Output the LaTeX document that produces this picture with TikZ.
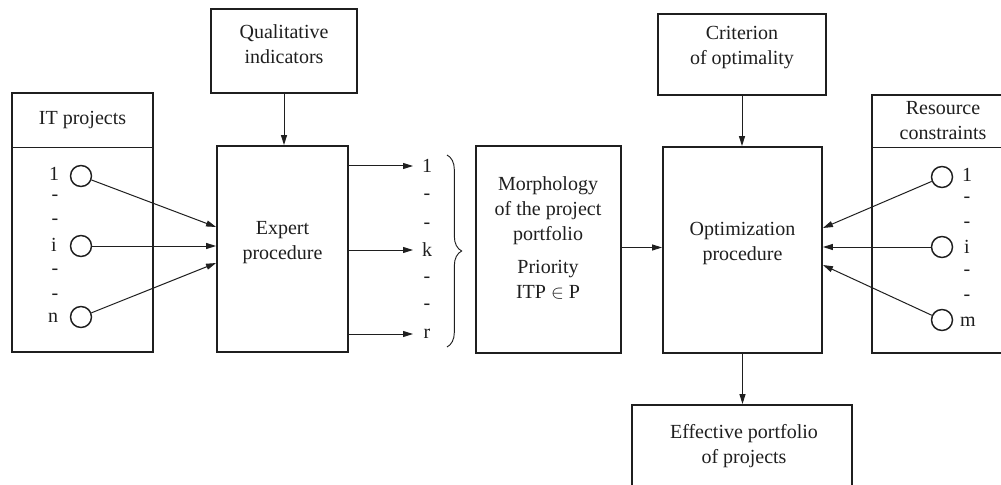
\documentclass[tikz,border=0pt]{standalone}
\usepackage{fontspec}
\setmainfont{Liberation Serif}
\usetikzlibrary{arrows.meta,fit,calc,decorations.pathreplacing}
\definecolor{ink}{gray}{0.12}
\begin{document}
\begin{tikzpicture}[x=0.75pt,y=-0.75pt,
  font=\fontsize{15}{18.75}\selectfont, text=ink,
  box/.style={draw=ink, line width=1.4pt, inner sep=0pt, align=center},
  sepline/.style={draw=ink, line width=0.6pt},
  arr/.style={draw=ink, line width=0.75pt, -{Triangle[length=7.5pt,width=4.5pt]}},
  port/.style={circle, draw=ink, line width=1.1pt, minimum size=15.75pt, inner sep=0pt},
  lbl/.style={inner sep=0pt},
  bracestyle/.style={draw=ink, line width=0.7pt, decorate, decoration={brace, amplitude=11pt}}
]
\clip (0,0) rectangle (1001,485);
\fill[white] (0,0) rectangle (1001,485);

% IT projects
\node[box, fit={(12,93) (153,352)}] (itp) {};
\draw[sepline] ($(itp.north west)+(0,55)$) -- ($(itp.north east)+(0,55)$);
\node (ithead) at ($(itp.north)+(0,28)$) {IT projects};
\node[port] (a1) at (81,176) {};
\node[port] (a2) at (81,246) {};
\node[port] (a3) at (81,317) {};
\node[lbl] (la1) at (54,174) {1};
\node[lbl] (la2) at (54,245) {i};
\node[lbl] (la3) at (53,318) {n};
\node[lbl] (da1) at (55,198) {-};
\node[lbl] (da2) at (55,222) {-};
\node[lbl] (da3) at (55,272) {-};
\node[lbl] (da4) at (55,297) {-};

% Qualitative indicators and expert procedure
\node[box, fit={(211,9) (357,93)}] (qual) {Qualitative\\indicators};
\node[box, fit={(217,146) (348,352)}] (expert) {Expert\\procedure};
\draw[arr] (qual.south) -- (qual.south |- expert.north);
\draw[arr] (a1) -- ($(expert.west)+(0,-22)$);
\draw[arr] (a2) -- ($(expert.west)+(0,-3)$);
\draw[arr] (a3) -- ($(expert.west)+(0,14)$);

% outputs
\node[lbl] (o1) at (427,166) {1};
\node[lbl] (o2) at (427,250) {k};
\node[lbl] (o3) at (427,334) {r};
\node[lbl] (do1) at (427,197) {-};
\node[lbl] (do2) at (427,226) {-};
\node[lbl] (do3) at (427,280) {-};
\node[lbl] (do4) at (427,307) {-};
\draw[arr] (expert.east |- o1) -- ($(o1.center)+(-14,0)$);
\draw[arr] (expert.east |- o2) -- ($(o2.center)+(-14,0)$);
\draw[arr] (expert.east |- o3) -- ($(o3.center)+(-14,0)$);
\coordinate (bt) at (447,155);
\coordinate (bb) at (447,347);
\draw[bracestyle] (bt) -- (bb);

% Morphology
\node[box, fit={(476,146) (621,353)}] (morph) {};
\node[align=center, anchor=north, inner sep=0pt] (morphtxt) at (548,176)
  {Morphology\\of the project\\portfolio\\[6pt]Priority\\ITP $\in$ P};

% Optimization
\node[box, fit={(658,14) (826,95)}] (crit) {Criterion\\of optimality};
\node[box, fit={(663,147) (822,353)}] (optim) {Optimization\\procedure};
\draw[arr] (crit.south) -- (crit.south |- optim.north);
\draw[arr] ($(morph.east)+(0,-2)$) -- ($(morph.east -| optim.west)+(0,-2)$);

% Resource constraints
\node[box, fit={(872,95) (1014,353)}] (res) {};
\draw[sepline] ($(res.north west)+(0,53)$) -- ($(res.north east)+(0,53)$);
\node[align=center] (reshead) at (943,121) {Resource\\constraints};
\node[port] (r1) at (942,177) {};
\node[port] (r2) at (942,247) {};
\node[port] (r3) at (942,320) {};
\node[lbl] (lr1) at (967,175) {1};
\node[lbl] (lr2) at (967,247) {i};
\node[lbl] (lr3) at (968,322) {m};
\node[lbl] (dr1) at (967,200) {-};
\node[lbl] (dr2) at (967,225) {-};
\node[lbl] (dr3) at (967,273) {-};
\node[lbl] (dr4) at (967,298) {-};
\draw[arr] (r1) -- ($(optim.east)+(0,-22)$);
\draw[arr] (r2) -- ($(optim.east)+(0,-3)$);
\draw[arr] (r3) -- ($(optim.east)+(0,15)$);

% Effective portfolio
\node[box, fit={(632,405) (852,500)}] (eff) {};
\node[align=center, anchor=north, inner sep=0pt] (efftxt) at (744,424)
  {Effective portfolio\\of projects};
\draw[arr] (optim.south) -- (optim.south |- eff.north);
\end{tikzpicture}
\end{document}
